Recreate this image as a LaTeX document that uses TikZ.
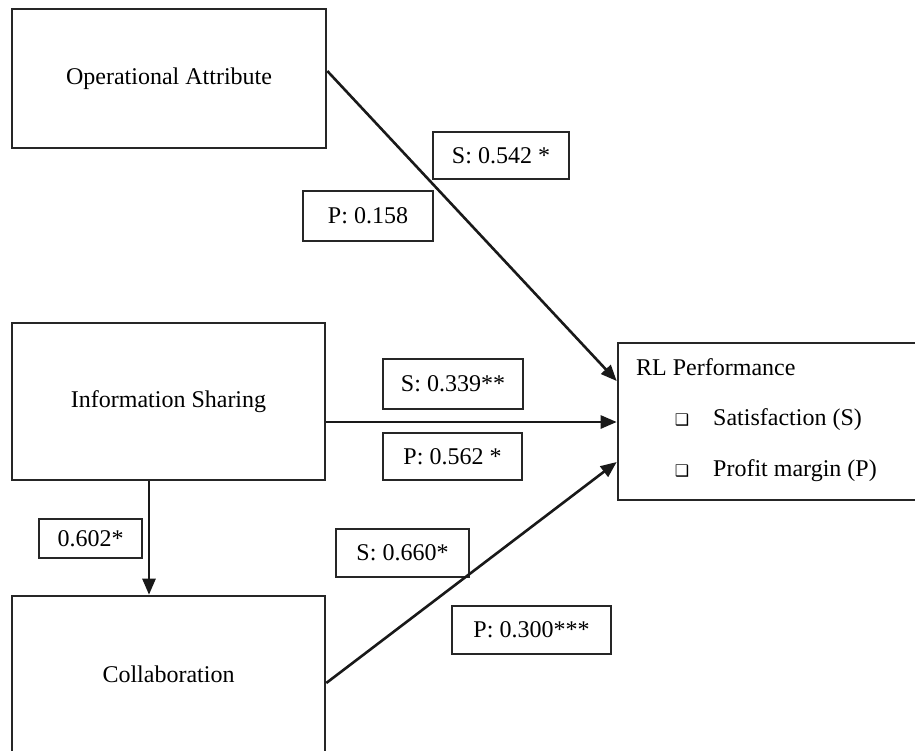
\documentclass[tikz,border=0pt]{standalone}
\usepackage{fontspec}
\setmainfont{Liberation Serif}
\newfontfamily\djfont{DejaVu Sans}
\usetikzlibrary{arrows.meta}
\begin{document}
\begin{tikzpicture}[x=1pt,y=-1pt,
  bigbox/.style={draw=black!85,line width=2.6pt,rectangle,inner sep=0pt,font=\fontsize{24}{28}\selectfont},
  valbox/.style={draw=black!85,line width=2.4pt,rectangle,inner sep=0pt,font=\fontsize{24}{28}\selectfont},
  txt/.style={inner sep=0pt,font=\fontsize{24}{28}\selectfont},
  conn/.style={line width=2.6pt,draw=black!90,-{Triangle[length=16pt,width=13pt]}},
  bul/.style={inner sep=0pt,font=\djfont\fontsize{16}{16}\selectfont}]
\useasboundingbox (0,0) rectangle (915,750);
\clip (0,0) rectangle (915,750);
\fill[white] (0,0) rectangle (915,750);
% main boxes
\node[bigbox,minimum width=314pt,minimum height=139pt] (op) at (169,78.5) {Operational Attribute\hspace{10pt}};
\node[bigbox,minimum width=313pt,minimum height=157pt] (info) at (168.5,401.5) {Information Sharing\hspace{19pt}};
\node[bigbox,minimum width=313pt,minimum height=157pt] (collab) at (168.5,674.5) {Collaboration\hspace{7pt}};
\node[bigbox,minimum width=300pt,minimum height=157pt] (rl) at (768,421.5) {};
% RL contents
\node[txt,anchor=west] (rlt) at (636,367) {RL Performance};
\node[bul] (b1) at (682,420) {❑};
\node[txt,anchor=west] (i1) at (713,420) {Satisfaction (S)};
\node[bul] (b2) at (682,471) {❑};
\node[txt,anchor=west] (i2) at (713,471) {Profit margin (P)};
% value boxes
\node[valbox,minimum width=136pt,minimum height=47pt] (s1) at (501,155.5) {S: 0.542 *};
\node[valbox,minimum width=130pt,minimum height=50pt] (p1) at (368,216) {P: 0.158};
\node[valbox,minimum width=140pt,minimum height=50pt] (s2) at (453,384) {S: 0.339**};
\node[valbox,minimum width=139pt,minimum height=47pt] (p2) at (452.5,456.5) {P: 0.562 *};
\node[valbox,minimum width=103pt,minimum height=39pt] (c1) at (90.5,538.5) {0.602*};
\node[valbox,minimum width=133pt,minimum height=48pt] (s3) at (402.5,553) {S: 0.660*};
\node[valbox,minimum width=159pt,minimum height=48pt] (p3) at (531.5,630) {P: 0.300***};
% connectors
\draw[conn] ([yshift=7.5pt]op.east) -- ([yshift=40.5pt]rl.west);
\draw[conn] ([yshift=-20.5pt]info.east) -- ([yshift=-20.5pt]info.east -| rl.west);
\draw[conn] ([yshift=-8.5pt]collab.east) -- ([yshift=-40.5pt]rl.west);
\draw[conn] ([xshift=-19.5pt]info.south) -- ([xshift=-19.5pt]collab.north);
\end{tikzpicture}
\end{document}
